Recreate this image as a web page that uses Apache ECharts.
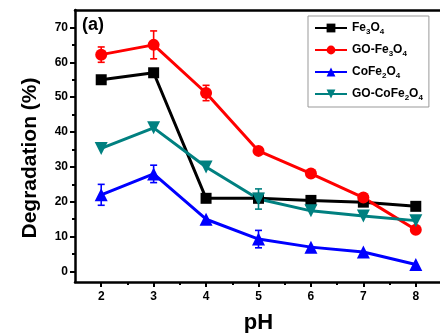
<!DOCTYPE html>
<html>
<head>
<meta charset="utf-8">
<script src="https://cdn.jsdelivr.net/npm/echarts@6/dist/echarts.min.js"></script>
<style>
  html, body { margin: 0; padding: 0; background: #fff; }
  #chart { width: 440px; height: 333px; }
</style>
</head>
<body>
<div id="chart"></div>
<script>
// pH values on the x axis
const phValues = [2, 3, 4, 5, 6, 7, 8];

// degradation (%) per material
const fe3o4 = [55, 57, 21, 21, 20.4, 19.9, 18.7];
const goFe3o4 = [62.2, 65, 51.2, 34.6, 28.1, 21.2, 12];
const coFe2o4 = [22, 28, 15, 9.3, 7, 5.6, 2];
const goCoFe2o4 = [35.3, 41.2, 30, 20.8, 17.4, 15.9, 14.6];

// error bars (+/-), 0 = none drawn
const fe3o4Err = [0, 0, 0, 0, 0, 0, 0];
const goFe3o4Err = [2.2, 4, 2.2, 0, 0, 0, 0];
const coFe2o4Err = [3, 2.5, 0, 2.5, 0, 0, 0];
const goCoFe2o4Err = [0, 0, 0, 2.9, 0, 0, 0];

const yLabelTicks = [0, 10, 20, 30, 40, 50, 60, 70];
const yMinorTicks = [5, 15, 25, 35, 45, 55, 65];
const xLabelTicks = [2, 3, 4, 5, 6, 7, 8];
const xMinorTicks = [2.5, 3.5, 4.5, 5.5, 6.5, 7.5];

const seriesDefs = [
  { name: 'Fe3O4', label: 'Fe{s|3}O{s|4}', values: fe3o4, err: fe3o4Err, color: '#000000', symbol: 'rect', size: 11, rotate: 0 },
  { name: 'GO-Fe3O4', label: 'GO-Fe{s|3}O{s|4}', values: goFe3o4, err: goFe3o4Err, color: '#ff0000', symbol: 'circle', size: 12, rotate: 0 },
  { name: 'CoFe2O4', label: 'CoFe{s|2}O{s|4}', values: coFe2o4, err: coFe2o4Err, color: '#0000ff', symbol: 'triangle', size: 13, rotate: 0 },
  { name: 'GO-CoFe2O4', label: 'GO-CoFe{s|2}O{s|4}', values: goCoFe2o4, err: goCoFe2o4Err, color: '#008080', symbol: 'triangle', size: 13, rotate: 180 }
];

const font = 'Liberation Sans, Arial, sans-serif';
const chart = echarts.init(document.getElementById('chart'), null, { renderer: 'canvas' });

const lineSeries = seriesDefs.map(d => ({
  name: d.name,
  type: 'line',
  xAxisIndex: 0,
  yAxisIndex: 0,
  data: phValues.map((x, i) => [x, d.values[i]]),
  symbol: d.symbol,
  symbolSize: d.size,
  symbolRotate: d.rotate,
  itemStyle: { color: d.color },
  lineStyle: { color: d.color, width: 3 },
  emphasis: { disabled: true },
  animation: false,
  z: 3
}));

const errorSeries = seriesDefs.map(d => ({
  type: 'custom',
  xAxisIndex: 0,
  yAxisIndex: 0,
  data: phValues.map((x, i) => [x, d.values[i], d.err[i]]).filter(p => p[2] > 0),
  renderItem: (params, api) => {
    const x = api.value(0), y = api.value(1), e = api.value(2);
    const top = api.coord([x, y + e]);
    const bot = api.coord([x, y - e]);
    const w = 3.5;
    const style = { stroke: d.color, lineWidth: 1.6 };
    return {
      type: 'group',
      children: [
        { type: 'line', shape: { x1: top[0], y1: top[1], x2: bot[0], y2: bot[1] }, style },
        { type: 'line', shape: { x1: top[0] - w, y1: top[1], x2: top[0] + w, y2: top[1] }, style },
        { type: 'line', shape: { x1: bot[0] - w, y1: bot[1], x2: bot[0] + w, y2: bot[1] }, style }
      ]
    };
  },
  animation: false,
  silent: true,
  z: 2
}));

const axisLabelStyle = { color: '#000', fontWeight: 'bold', fontSize: 12, fontFamily: font };

const option = {
  animation: false,
  title: {
    text: '(a)',
    left: 77,
    top: 11,
    textStyle: { fontSize: 18, fontWeight: 'bold', fontFamily: font, color: '#000' }
  },
  // y axis title drawn as text so it can sit a little below the plot centre
  graphic: [
    {
      type: 'text',
      x: 30,
      y: 158,
      rotation: Math.PI / 2,
      style: {
        text: 'Degradation (%)',
        font: 'bold 21px ' + font,
        fill: '#000',
        align: 'center',
        verticalAlign: 'middle'
      }
    }
  ],
  legend: {
    orient: 'vertical',
    left: 308,
    top: 16,
    padding: [6, 6, 5, 6],
    itemGap: 8,
    itemWidth: 32,
    itemHeight: 11,
    borderColor: '#999',
    borderWidth: 1,
    data: seriesDefs.map(d => d.name),
    formatter: name => seriesDefs.find(d => d.name === name).label,
    textStyle: {
      color: '#000',
      fontWeight: 'bold',
      fontSize: 12,
      fontFamily: font,
      rich: {
        s: { fontSize: 8, fontWeight: 'bold', fontFamily: font, color: '#000', padding: [8, 0, 0, 0] }
      }
    }
  },
  grid: { left: 75, top: 10, width: 367, height: 272, outerBoundsMode: 'none', containLabel: false },
  xAxis: [
    {
      type: 'value',
      min: 1.5,
      max: 8.5,
      position: 'bottom',
      name: 'pH',
      nameLocation: 'middle',
      nameGap: 30,
      nameTextStyle: { fontSize: 22, fontWeight: 'bold', fontFamily: font, color: '#000' },
      axisLine: { show: true, onZero: false, lineStyle: { color: '#000', width: 2.5 } },
      axisTick: { show: true, customValues: xLabelTicks, length: 5, lineStyle: { color: '#000', width: 2 } },
      axisLabel: { ...axisLabelStyle, customValues: xLabelTicks, margin: 9 },
      splitLine: { show: false }
    },
    {
      type: 'value',
      min: 1.5,
      max: 8.5,
      position: 'bottom',
      axisLine: { show: false, onZero: false },
      axisTick: { show: true, customValues: xMinorTicks, length: 3, lineStyle: { color: '#000', width: 2 } },
      axisLabel: { show: false },
      splitLine: { show: false }
    },
    {
      type: 'value',
      min: 1.5,
      max: 8.5,
      position: 'top',
      axisLine: { show: true, onZero: false, lineStyle: { color: '#000', width: 2.5 } },
      axisTick: { show: false },
      axisLabel: { show: false },
      splitLine: { show: false }
    }
  ],
  yAxis: [
    {
      type: 'value',
      min: -3,
      max: 75,
      position: 'left',
      axisLine: { show: true, onZero: false, lineStyle: { color: '#000', width: 2.5 } },
      axisTick: { show: true, customValues: yLabelTicks, length: 5, lineStyle: { color: '#000', width: 2 } },
      axisLabel: { ...axisLabelStyle, customValues: yLabelTicks, margin: 7 },
      splitLine: { show: false }
    },
    {
      type: 'value',
      min: -3,
      max: 75,
      position: 'left',
      axisLine: { show: false, onZero: false },
      axisTick: { show: true, customValues: yMinorTicks, length: 3, lineStyle: { color: '#000', width: 2 } },
      axisLabel: { show: false },
      splitLine: { show: false }
    }
  ],
  series: [...lineSeries, ...errorSeries]
};

chart.setOption(option);
</script>
</body>
</html>
